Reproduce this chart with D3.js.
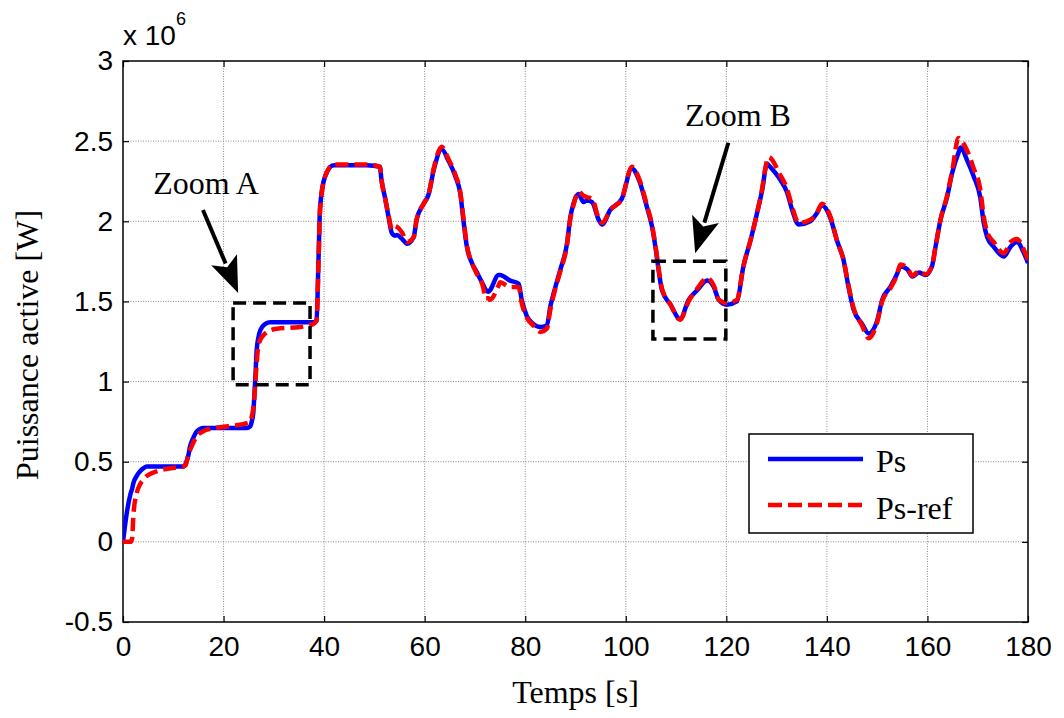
<!DOCTYPE html>
<html>
<head>
<meta charset="utf-8">
<script src="https://cdn.jsdelivr.net/npm/d3@7"></script>
<style>
  html, body { margin: 0; padding: 0; background: #fff; }
  svg { display: block; }
</style>
</head>
<body>
<svg id="chart" width="1064" height="718"></svg>
<script>
// ---- data (values in units of 1e6 W) ----
const time = [0,0.4,0.8,1.5,1.8,2.1,2.7,3.4,4.1,4.7,6.7,8.5,10.7,12.0,12.5,13.0,13.3,14.0,14.7,16.0,16.7,20.6,24.6,25.3,25.6,25.9,26.1,26.3,26.6,26.9,27.3,28.3,29.3,30.6,35.2,37.9,38.5,38.9,39.2,40.2,41.9,48.5,51.1,51.4,52.1,52.8,53.5,54.1,54.5,55.5,56.5,57.8,58.4,59.8,60.8,61.8,63.4,64.7,66.1,67.1,67.7,68.4,69.4,70.4,71.7,72.0,72.7,73.0,74.7,75.0,77.0,78.7,79.3,80.3,81.6,83.0,84.3,85.0,86.0,87.0,88.3,89.0,89.6,90.6,91.6,92.3,93.3,94.6,95.3,96.9,99.2,101.2,102.6,104.2,105.2,105.9,106.6,107.2,108.9,110.8,112.5,114.2,116.2,117.5,118.5,120.1,122.1,123.4,124.8,126.1,127.1,128.1,128.4,130.7,132.1,133.1,134.4,136.7,138.0,139.0,140.7,142.0,143.3,144.3,145.3,147.0,148.3,150.0,151.0,152.6,154.0,154.6,156.0,157.0,158.3,159.6,160.9,161.6,162.6,163.9,164.9,166.2,166.6,167.9,169.2,170.5,171.2,171.9,173.2,175.2,176.5,177.8,179.2,180.0];
const ps = [0,0.10,0.19,0.30,0.33,0.37,0.41,0.44,0.46,0.47,0.47,0.47,0.47,0.47,0.49,0.54,0.59,0.65,0.69,0.71,0.71,0.71,0.71,0.72,0.75,0.80,0.90,1.01,1.20,1.27,1.32,1.36,1.37,1.37,1.37,1.37,1.38,1.78,2.09,2.28,2.35,2.35,2.34,2.26,2.15,2.03,1.925,1.91,1.915,1.89,1.86,1.90,2.01,2.11,2.17,2.32,2.45,2.38,2.28,2.17,2.01,1.84,1.74,1.68,1.60,1.58,1.56,1.57,1.665,1.665,1.63,1.61,1.51,1.41,1.36,1.34,1.35,1.47,1.59,1.70,1.86,2.03,2.11,2.17,2.12,2.13,2.12,2.01,1.98,2.07,2.14,2.33,2.26,2.09,1.97,1.84,1.68,1.57,1.48,1.39,1.51,1.57,1.63,1.59,1.51,1.48,1.50,1.72,1.88,2.05,2.19,2.36,2.35,2.26,2.18,2.07,1.98,2.00,2.05,2.10,2.02,1.88,1.76,1.59,1.45,1.36,1.30,1.38,1.51,1.59,1.675,1.72,1.70,1.655,1.68,1.665,1.72,1.84,2.01,2.15,2.30,2.43,2.46,2.38,2.28,2.15,1.99,1.90,1.84,1.78,1.84,1.87,1.80,1.74];
const psRef = [0,0,0,0,0.02,0.18,0.30,0.36,0.39,0.41,0.44,0.455,0.465,0.47,0.48,0.55,0.57,0.62,0.66,0.69,0.70,0.72,0.74,0.75,0.78,0.83,0.885,0.98,1.12,1.22,1.26,1.30,1.32,1.33,1.34,1.36,1.38,1.76,2.07,2.28,2.355,2.355,2.34,2.26,2.15,2.04,1.95,1.97,1.965,1.93,1.87,1.90,2.01,2.11,2.17,2.33,2.465,2.39,2.29,2.18,2.02,1.85,1.74,1.67,1.58,1.52,1.52,1.51,1.60,1.62,1.59,1.59,1.49,1.40,1.35,1.31,1.33,1.45,1.58,1.69,1.85,2.02,2.10,2.185,2.16,2.15,2.14,2.02,1.99,2.07,2.14,2.34,2.27,2.10,1.98,1.85,1.69,1.58,1.48,1.385,1.50,1.58,1.645,1.60,1.51,1.49,1.51,1.72,1.88,2.05,2.20,2.38,2.40,2.29,2.20,2.09,1.99,2.01,2.05,2.11,2.03,1.88,1.76,1.60,1.46,1.35,1.27,1.37,1.50,1.58,1.67,1.73,1.71,1.66,1.69,1.67,1.72,1.84,2.01,2.16,2.31,2.52,2.51,2.44,2.33,2.20,2.03,1.93,1.87,1.80,1.87,1.89,1.82,1.76];

const xTicks = [0,20,40,60,80,100,120,140,160,180];
const yTicks = [-0.5,0,0.5,1,1.5,2,2.5,3];
const yTickLabels = ["-0.5","0","0.5","1","1.5","2","2.5","3"];
const seriesNames = ["Ps","Ps-ref"];

// zoom boxes [x0, x1, y0, y1] and arrows [xStart, yStart, xTip, yTip] in data units
const zoomBoxA = [21.9, 37.2, 0.98, 1.49];
const zoomBoxB = [105.4, 119.9, 1.265, 1.75];
const arrowA = [15.9, 2.07, 22.9, 1.553];
const arrowB = [120.4, 2.49, 113.8, 1.80];
const labelA = ["Zoom A", 6.0, 2.17];
const labelB = ["Zoom B", 111.8, 2.595];

// ---- layout ----
const L = 123, R = 1028, T = 61, B = 622;
const svg = d3.select("#chart");
const x = d3.scaleLinear().domain([0,180]).range([L,R]);
const y = d3.scaleLinear().domain([-0.5,3]).range([B,T]);

const serif = "'Liberation Serif','Times New Roman',Times,serif";
const sans = "'Liberation Sans',Arial,Helvetica,sans-serif";

// background
svg.append("rect").attr("x",0).attr("y",0).attr("width",1064).attr("height",718).attr("fill","#fff");

// grid
const grid = svg.append("g").attr("stroke","#8a8a8a").attr("stroke-width",1).attr("stroke-dasharray","1,1.5");
xTicks.slice(1,-1).forEach(t => grid.append("line").attr("x1",x(t)).attr("x2",x(t)).attr("y1",T).attr("y2",B));
yTicks.slice(1,-1).forEach(t => grid.append("line").attr("x1",L).attr("x2",R).attr("y1",y(t)).attr("y2",y(t)));

// axes (ticks inside, matlab style)
const xAxis = d3.axisBottom(x).tickValues(xTicks).tickSize(-6).tickPadding(14).tickFormat(d3.format("d"));
const gx = svg.append("g").attr("transform",`translate(0,${B})`).call(xAxis);
const xAxisTop = d3.axisTop(x).tickValues(xTicks).tickSize(-6).tickFormat("");
svg.append("g").attr("transform",`translate(0,${T})`).call(xAxisTop);
const yAxis = d3.axisLeft(y).tickValues(yTicks).tickSize(-6).tickPadding(14).tickFormat((d,i)=>yTickLabels[i]);
const gy = svg.append("g").attr("transform",`translate(${L},0)`).call(yAxis);
const yAxisR = d3.axisRight(y).tickValues(yTicks).tickSize(-6).tickFormat("");
svg.append("g").attr("transform",`translate(${R},0)`).call(yAxisR);

svg.selectAll(".domain").remove();
svg.selectAll(".tick line").attr("stroke","#000").attr("stroke-width",1.2);
gx.selectAll(".tick text").attr("font-family",sans).attr("font-size",28).attr("fill","#000");
gy.selectAll(".tick text").attr("font-family",sans).attr("font-size",28).attr("fill","#000").attr("dx",4);

// frame
svg.append("rect").attr("x",L).attr("y",T).attr("width",R-L).attr("height",B-T)
  .attr("fill","none").attr("stroke","#000").attr("stroke-width",1.5);

// exponent label
const ex = svg.append("text").attr("x",L).attr("y",45).attr("font-family",sans).attr("font-size",28).attr("fill","#000");
ex.append("tspan").text("x 10");
ex.append("tspan").attr("dy",-20).attr("font-size",18).text("6");

// lines
const line = d3.line().x((d,i)=>x(time[i])).y(d=>y(d)).curve(d3.curveMonotoneX);
const clip = svg.append("clipPath").attr("id","clip").append("rect").attr("x",L).attr("y",T).attr("width",R-L).attr("height",B-T);
const plot = svg.append("g").attr("clip-path","url(#clip)");
plot.append("path").datum(ps).attr("d",line).attr("fill","none").attr("stroke","#0000ff").attr("stroke-width",4.5).attr("stroke-linejoin","round");
plot.append("path").datum(psRef).attr("d",line).attr("fill","none").attr("stroke","#ff0000").attr("stroke-width",4.5).attr("stroke-dasharray","13,6");

// zoom boxes
[zoomBoxA, zoomBoxB].forEach(b => {
  svg.append("rect").attr("x",x(b[0])).attr("y",y(b[3])).attr("width",x(b[1])-x(b[0])).attr("height",y(b[2])-y(b[3]))
    .attr("fill","none").attr("stroke","#000").attr("stroke-width",3.5).attr("stroke-dasharray","13,7");
});

// arrows
function arrow(a){
  const x0=x(a[0]), y0=y(a[1]), x1=x(a[2]), y1=y(a[3]);
  const dx=x1-x0, dy=y1-y0, len=Math.hypot(dx,dy), ux=dx/len, uy=dy/len;
  const hl=36, hw=14;
  const bx=x1-ux*hl, by=y1-uy*hl;
  svg.append("line").attr("x1",x0).attr("y1",y0).attr("x2",bx+ux*4).attr("y2",by+uy*4).attr("stroke","#000").attr("stroke-width",4);
  svg.append("path").attr("d",`M${x1},${y1}L${bx-uy*hw},${by+ux*hw}L${bx+ux*8},${by+uy*8}L${bx+uy*hw},${by-ux*hw}Z`).attr("fill","#000");
}
arrow(arrowA); arrow(arrowB);

[labelA,labelB].forEach(l => {
  svg.append("text").attr("x",x(l[1])).attr("y",y(l[2])).attr("font-family",serif).attr("font-size",32).attr("fill","#000").text(l[0]);
});

// axis labels
svg.append("text").attr("x",(L+R)/2).attr("y",703).attr("text-anchor","middle").attr("font-family",serif).attr("font-size",32).text("Temps [s]");
svg.append("text").attr("transform","translate(38,345) rotate(-90)").attr("text-anchor","middle").attr("font-family",serif).attr("font-size",32).text("Puissance active [W]");

// legend
const lg = svg.append("g");
lg.append("rect").attr("x",749).attr("y",434).attr("width",224).attr("height",99).attr("fill","#fff").attr("stroke","#000").attr("stroke-width",1.5);
lg.append("line").attr("x1",768).attr("x2",863).attr("y1",459).attr("y2",459).attr("stroke","#0000ff").attr("stroke-width",4.5);
lg.append("line").attr("x1",768).attr("x2",863).attr("y1",505).attr("y2",505).attr("stroke","#ff0000").attr("stroke-width",4.5).attr("stroke-dasharray","14,6");
lg.append("text").attr("x",876).attr("y",472).attr("font-family",serif).attr("font-size",32).text(seriesNames[0]);
lg.append("text").attr("x",876).attr("y",519).attr("font-family",serif).attr("font-size",32).text(seriesNames[1]);
</script>
</body>
</html>
